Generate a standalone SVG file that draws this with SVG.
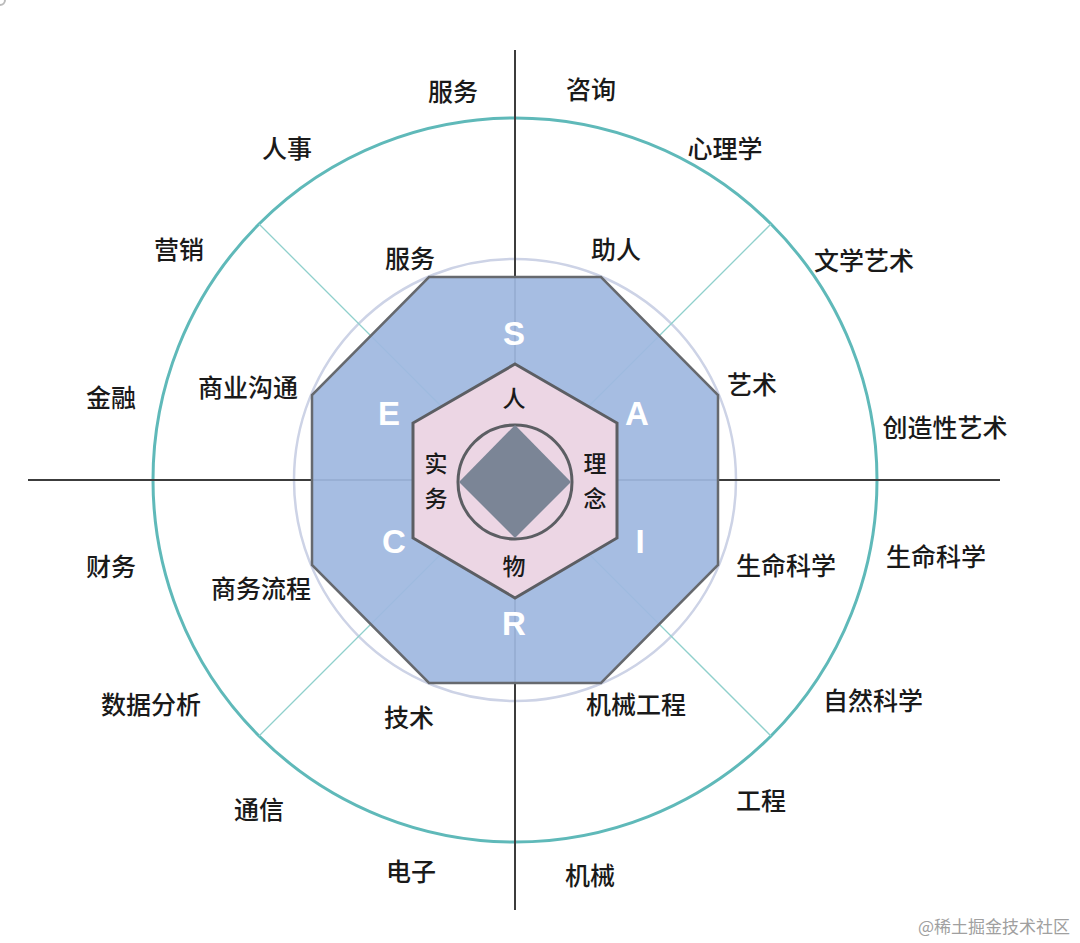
<svg xmlns="http://www.w3.org/2000/svg" width="1080" height="943" viewBox="0 0 1080 943">
<style>
.lbl{font-family:"Noto Sans CJK SC","Liberation Sans",sans-serif;font-size:25px;font-weight:500;fill:#1a1a1a;text-anchor:middle;dominant-baseline:central}
.hex{font-family:"Noto Sans CJK SC","Liberation Sans",sans-serif;font-size:23px;font-weight:500;fill:#1a1a1a;text-anchor:middle;dominant-baseline:central}
.let{font-family:"Liberation Sans",Arial,sans-serif;font-size:33px;font-weight:bold;fill:#ffffff;text-anchor:middle;dominant-baseline:central}
.diag{stroke:#8fd0cc;stroke-width:1.3;fill:none}
.axis{stroke:#3c3c3c;stroke-width:2;fill:none}
</style>
<rect width="1080" height="943" fill="#ffffff"/>
<circle cx="0" cy="0" r="5" fill="none" stroke="#bbbbbb" stroke-width="2"/>
<g id="rings">
<circle cx="515" cy="480" r="362" fill="none" stroke="#5fb9b9" stroke-width="3"/>
<circle cx="515" cy="480" r="221" fill="none" stroke="#cdd3e6" stroke-width="2.5"/>
</g>
<g id="connectors">
<line class="diag" x1="259" y1="224" x2="771" y2="736"/>
<line class="diag" x1="771" y1="224" x2="259" y2="736"/>
<line class="axis" x1="515" y1="50" x2="515" y2="910"/>
<line class="axis" x1="28" y1="480" x2="1000" y2="480"/>
</g>
<g id="octagon">
<polygon points="429,277 601,277 718,395 718,565 601,683 429,683 312,565 312,395" fill="#9fb8e0" fill-opacity="0.93" stroke="#66696e" stroke-width="2.5"/>
</g>
<g id="hexagon">
<polygon points="515,364 617,423 617,538 515,598 413,538 413,423" fill="#ecd6e4" stroke="#5c5e63" stroke-width="3"/>
<circle cx="515" cy="482" r="57" fill="none" stroke="#5c5e63" stroke-width="3"/>
<polygon points="515,425 571,482 515,538 459,482" fill="#7b8596"/>
<text class="hex" x="514" y="397">人</text>
<text class="hex" x="436" y="462">实</text>
<text class="hex" x="436" y="497">务</text>
<text class="hex" x="595" y="462">理</text>
<text class="hex" x="595" y="497">念</text>
<text class="hex" x="514" y="565">物</text>
</g>
<g id="letters">
<text class="let" x="514" y="333">S</text>
<text class="let" x="389" y="413">E</text>
<text class="let" x="637" y="413">A</text>
<text class="let" x="394" y="541">C</text>
<text class="let" x="640" y="541">I</text>
<text class="let" x="514" y="623">R</text>
</g>
<g id="outer-labels">
<text class="lbl" x="453" y="90">服务</text>
<text class="lbl" x="591" y="88">咨询</text>
<text class="lbl" x="287" y="147">人事</text>
<text class="lbl" x="725" y="147">心理学</text>
<text class="lbl" x="179" y="248">营销</text>
<text class="lbl" x="864" y="259">文学艺术</text>
<text class="lbl" x="111" y="396">金融</text>
<text class="lbl" x="945" y="426">创造性艺术</text>
<text class="lbl" x="111" y="565">财务</text>
<text class="lbl" x="936" y="555">生命科学</text>
<text class="lbl" x="151" y="703">数据分析</text>
<text class="lbl" x="873" y="699">自然科学</text>
<text class="lbl" x="259" y="808">通信</text>
<text class="lbl" x="761" y="799">工程</text>
<text class="lbl" x="411" y="870">电子</text>
<text class="lbl" x="590" y="874">机械</text>
</g>
<g id="inner-labels">
<text class="lbl" x="410" y="257">服务</text>
<text class="lbl" x="616" y="248">助人</text>
<text class="lbl" x="248" y="386">商业沟通</text>
<text class="lbl" x="752" y="383">艺术</text>
<text class="lbl" x="261" y="587">商务流程</text>
<text class="lbl" x="786" y="564">生命科学</text>
<text class="lbl" x="409" y="716">技术</text>
<text class="lbl" x="636" y="703">机械工程</text>
</g>
<text x="994" y="925" font-family="Noto Sans CJK SC,Liberation Sans,sans-serif" font-size="17" fill="#a0a0a0" text-anchor="middle" dominant-baseline="central">@稀土掘金技术社区</text>
</svg>
